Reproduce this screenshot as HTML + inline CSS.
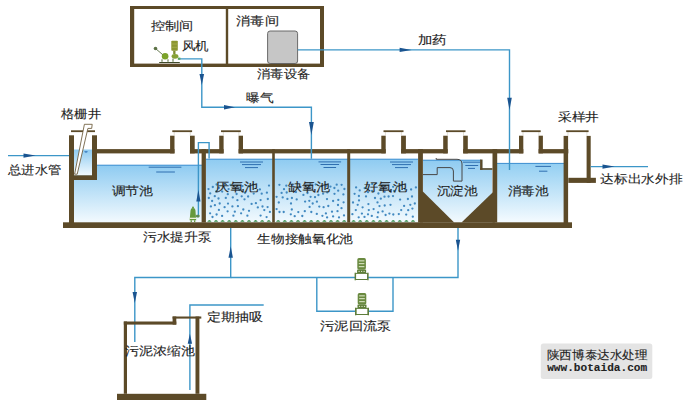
<!DOCTYPE html>
<html><head><meta charset="utf-8"><style>
html,body{margin:0;padding:0;background:#fff;width:696px;height:408px;overflow:hidden;}
svg{display:block;font-family:"Liberation Sans",sans-serif;}
</style></head><body>
<svg width="696" height="408" viewBox="0 0 696 408">
<defs>
<linearGradient id="wg" x1="0" y1="0" x2="0" y2="1">
<stop offset="0" stop-color="#8ecbf1"/><stop offset="1" stop-color="#f3fafe"/></linearGradient>
<linearGradient id="wg2" x1="0" y1="0" x2="0" y2="1">
<stop offset="0" stop-color="#93cff2"/><stop offset="1" stop-color="#f5fbff"/></linearGradient>
</defs>
<rect x="74" y="165" width="128" height="57.5" fill="url(#wg)" />
<line x1="74" y1="165.2" x2="202" y2="165.2" stroke="#3d8fd0" stroke-width="1"/>
<rect x="74" y="149.5" width="18.3" height="26.0" fill="url(#wg)" />
<rect x="206" y="159" width="212" height="63.5" fill="url(#wg)" />
<line x1="206" y1="159.2" x2="418" y2="159.2" stroke="#3d8fd0" stroke-width="1"/>
<rect x="423" y="160" width="69" height="62.5" fill="url(#wg)" />
<line x1="423" y1="160.2" x2="481" y2="160.2" stroke="#3d8fd0" stroke-width="1"/>
<rect x="482.3" y="153.4" width="10.2" height="14.8" fill="#fff" />
<rect x="497" y="163.2" width="67" height="59.3" fill="url(#wg2)" />
<line x1="497" y1="163.4" x2="564" y2="163.4" stroke="#3d8fd0" stroke-width="1"/>
<circle cx="228.6" cy="189.1" r="1.15" fill="#4289c0"/>
<circle cx="248.9" cy="186.4" r="1.15" fill="#4289c0"/>
<circle cx="241.7" cy="196.3" r="1.15" fill="#4289c0"/>
<circle cx="212.1" cy="201.0" r="1.15" fill="#4289c0"/>
<circle cx="212.8" cy="187.0" r="1.15" fill="#4289c0"/>
<circle cx="234.8" cy="211.7" r="1.15" fill="#4289c0"/>
<circle cx="216.2" cy="191.5" r="1.15" fill="#4289c0"/>
<circle cx="247.4" cy="215.7" r="1.15" fill="#4289c0"/>
<circle cx="269.0" cy="185.6" r="1.15" fill="#4289c0"/>
<circle cx="261.7" cy="193.7" r="1.15" fill="#4289c0"/>
<circle cx="227.6" cy="211.3" r="1.15" fill="#4289c0"/>
<circle cx="219.7" cy="203.5" r="1.15" fill="#4289c0"/>
<circle cx="248.1" cy="196.5" r="1.15" fill="#4289c0"/>
<circle cx="242.5" cy="186.1" r="1.15" fill="#4289c0"/>
<circle cx="228.0" cy="203.6" r="1.15" fill="#4289c0"/>
<circle cx="236.6" cy="194.0" r="1.15" fill="#4289c0"/>
<circle cx="257.8" cy="207.4" r="1.15" fill="#4289c0"/>
<circle cx="241.1" cy="213.3" r="1.15" fill="#4289c0"/>
<circle cx="253.7" cy="193.6" r="1.15" fill="#4289c0"/>
<circle cx="210.9" cy="206.4" r="1.15" fill="#4289c0"/>
<circle cx="255.9" cy="203.2" r="1.15" fill="#4289c0"/>
<circle cx="251.6" cy="203.9" r="1.15" fill="#4289c0"/>
<circle cx="244.5" cy="199.3" r="1.15" fill="#4289c0"/>
<circle cx="260.6" cy="215.6" r="1.15" fill="#4289c0"/>
<circle cx="237.9" cy="206.2" r="1.15" fill="#4289c0"/>
<circle cx="232.4" cy="206.4" r="1.15" fill="#4289c0"/>
<circle cx="218.9" cy="187.9" r="1.15" fill="#4289c0"/>
<circle cx="225.8" cy="197.9" r="1.15" fill="#4289c0"/>
<circle cx="245.0" cy="192.8" r="1.15" fill="#4289c0"/>
<circle cx="208.8" cy="198.0" r="1.15" fill="#4289c0"/>
<circle cx="267.6" cy="207.1" r="1.15" fill="#4289c0"/>
<circle cx="264.3" cy="210.1" r="1.15" fill="#4289c0"/>
<circle cx="232.8" cy="197.4" r="1.15" fill="#4289c0"/>
<circle cx="214.9" cy="205.2" r="1.15" fill="#4289c0"/>
<circle cx="208.5" cy="189.1" r="1.15" fill="#4289c0"/>
<circle cx="214.8" cy="196.2" r="1.15" fill="#4289c0"/>
<circle cx="210.1" cy="213.3" r="1.15" fill="#4289c0"/>
<circle cx="237.4" cy="200.2" r="1.15" fill="#4289c0"/>
<circle cx="259.9" cy="189.4" r="1.15" fill="#4289c0"/>
<circle cx="218.9" cy="209.9" r="1.15" fill="#4289c0"/>
<circle cx="230.5" cy="185.0" r="1.15" fill="#4289c0"/>
<circle cx="210.2" cy="193.4" r="1.15" fill="#4289c0"/>
<circle cx="224.6" cy="207.2" r="1.15" fill="#4289c0"/>
<circle cx="267.8" cy="199.0" r="1.15" fill="#4289c0"/>
<circle cx="266.6" cy="217.1" r="1.15" fill="#4289c0"/>
<circle cx="222.2" cy="191.6" r="1.15" fill="#4289c0"/>
<circle cx="260.6" cy="200.1" r="1.15" fill="#4289c0"/>
<circle cx="249.0" cy="210.8" r="1.15" fill="#4289c0"/>
<circle cx="233.4" cy="215.7" r="1.15" fill="#4289c0"/>
<circle cx="216.6" cy="184.5" r="1.15" fill="#4289c0"/>
<circle cx="216.6" cy="214.5" r="1.15" fill="#4289c0"/>
<circle cx="243.3" cy="209.5" r="1.15" fill="#4289c0"/>
<circle cx="266.9" cy="192.7" r="1.15" fill="#4289c0"/>
<circle cx="222.1" cy="215.9" r="1.15" fill="#4289c0"/>
<circle cx="269.9" cy="211.9" r="1.15" fill="#4289c0"/>
<circle cx="218.5" cy="198.5" r="1.15" fill="#4289c0"/>
<circle cx="253.3" cy="184.7" r="1.15" fill="#4289c0"/>
<circle cx="212.5" cy="217.0" r="1.15" fill="#4289c0"/>
<circle cx="227.8" cy="194.2" r="1.15" fill="#4289c0"/>
<circle cx="239.5" cy="190.0" r="1.15" fill="#4289c0"/>
<circle cx="224.0" cy="184.5" r="1.15" fill="#4289c0"/>
<circle cx="262.5" cy="206.5" r="1.15" fill="#4289c0"/>
<circle cx="296.0" cy="192.1" r="1.15" fill="#4289c0"/>
<circle cx="296.7" cy="199.4" r="1.15" fill="#4289c0"/>
<circle cx="287.4" cy="198.9" r="1.15" fill="#4289c0"/>
<circle cx="294.7" cy="216.2" r="1.15" fill="#4289c0"/>
<circle cx="343.6" cy="202.3" r="1.15" fill="#4289c0"/>
<circle cx="276.6" cy="196.8" r="1.15" fill="#4289c0"/>
<circle cx="309.3" cy="200.8" r="1.15" fill="#4289c0"/>
<circle cx="282.7" cy="197.4" r="1.15" fill="#4289c0"/>
<circle cx="279.4" cy="184.8" r="1.15" fill="#4289c0"/>
<circle cx="316.9" cy="201.7" r="1.15" fill="#4289c0"/>
<circle cx="328.3" cy="206.0" r="1.15" fill="#4289c0"/>
<circle cx="325.9" cy="213.4" r="1.15" fill="#4289c0"/>
<circle cx="303.4" cy="194.9" r="1.15" fill="#4289c0"/>
<circle cx="344.4" cy="189.0" r="1.15" fill="#4289c0"/>
<circle cx="279.5" cy="212.0" r="1.15" fill="#4289c0"/>
<circle cx="338.0" cy="205.0" r="1.15" fill="#4289c0"/>
<circle cx="311.3" cy="212.0" r="1.15" fill="#4289c0"/>
<circle cx="332.0" cy="211.7" r="1.15" fill="#4289c0"/>
<circle cx="316.8" cy="213.9" r="1.15" fill="#4289c0"/>
<circle cx="323.6" cy="207.2" r="1.15" fill="#4289c0"/>
<circle cx="292.4" cy="185.0" r="1.15" fill="#4289c0"/>
<circle cx="283.7" cy="212.0" r="1.15" fill="#4289c0"/>
<circle cx="310.3" cy="184.1" r="1.15" fill="#4289c0"/>
<circle cx="322.0" cy="186.2" r="1.15" fill="#4289c0"/>
<circle cx="327.3" cy="192.4" r="1.15" fill="#4289c0"/>
<circle cx="281.6" cy="192.9" r="1.15" fill="#4289c0"/>
<circle cx="310.6" cy="196.8" r="1.15" fill="#4289c0"/>
<circle cx="309.6" cy="206.9" r="1.15" fill="#4289c0"/>
<circle cx="286.7" cy="192.5" r="1.15" fill="#4289c0"/>
<circle cx="315.7" cy="184.4" r="1.15" fill="#4289c0"/>
<circle cx="323.1" cy="193.7" r="1.15" fill="#4289c0"/>
<circle cx="308.7" cy="188.0" r="1.15" fill="#4289c0"/>
<circle cx="338.2" cy="190.7" r="1.15" fill="#4289c0"/>
<circle cx="344.0" cy="215.4" r="1.15" fill="#4289c0"/>
<circle cx="333.1" cy="216.4" r="1.15" fill="#4289c0"/>
<circle cx="307.5" cy="193.0" r="1.15" fill="#4289c0"/>
<circle cx="291.0" cy="203.5" r="1.15" fill="#4289c0"/>
<circle cx="333.1" cy="201.0" r="1.15" fill="#4289c0"/>
<circle cx="298.3" cy="212.1" r="1.15" fill="#4289c0"/>
<circle cx="276.6" cy="209.1" r="1.15" fill="#4289c0"/>
<circle cx="334.4" cy="188.0" r="1.15" fill="#4289c0"/>
<circle cx="302.3" cy="216.0" r="1.15" fill="#4289c0"/>
<circle cx="337.5" cy="211.2" r="1.15" fill="#4289c0"/>
<circle cx="326.2" cy="185.7" r="1.15" fill="#4289c0"/>
<circle cx="327.0" cy="199.1" r="1.15" fill="#4289c0"/>
<circle cx="315.0" cy="197.2" r="1.15" fill="#4289c0"/>
<circle cx="290.8" cy="214.3" r="1.15" fill="#4289c0"/>
<circle cx="339.0" cy="217.4" r="1.15" fill="#4289c0"/>
<circle cx="300.1" cy="187.1" r="1.15" fill="#4289c0"/>
<circle cx="305.1" cy="201.6" r="1.15" fill="#4289c0"/>
<circle cx="336.7" cy="184.7" r="1.15" fill="#4289c0"/>
<circle cx="338.3" cy="199.9" r="1.15" fill="#4289c0"/>
<circle cx="284.0" cy="189.2" r="1.15" fill="#4289c0"/>
<circle cx="341.5" cy="208.2" r="1.15" fill="#4289c0"/>
<circle cx="312.7" cy="203.5" r="1.15" fill="#4289c0"/>
<circle cx="343.4" cy="194.4" r="1.15" fill="#4289c0"/>
<circle cx="291.8" cy="209.5" r="1.15" fill="#4289c0"/>
<circle cx="291.9" cy="198.0" r="1.15" fill="#4289c0"/>
<circle cx="322.4" cy="215.8" r="1.15" fill="#4289c0"/>
<circle cx="286.3" cy="185.7" r="1.15" fill="#4289c0"/>
<circle cx="327.1" cy="217.4" r="1.15" fill="#4289c0"/>
<circle cx="304.8" cy="211.2" r="1.15" fill="#4289c0"/>
<circle cx="341.6" cy="184.8" r="1.15" fill="#4289c0"/>
<circle cx="318.4" cy="195.0" r="1.15" fill="#4289c0"/>
<circle cx="330.5" cy="186.6" r="1.15" fill="#4289c0"/>
<circle cx="278.8" cy="202.5" r="1.15" fill="#4289c0"/>
<circle cx="319.3" cy="206.6" r="1.15" fill="#4289c0"/>
<circle cx="334.5" cy="193.8" r="1.15" fill="#4289c0"/>
<circle cx="388.6" cy="196.5" r="1.15" fill="#4289c0"/>
<circle cx="399.6" cy="190.7" r="1.15" fill="#4289c0"/>
<circle cx="368.0" cy="192.2" r="1.15" fill="#4289c0"/>
<circle cx="361.9" cy="213.6" r="1.15" fill="#4289c0"/>
<circle cx="377.5" cy="217.2" r="1.15" fill="#4289c0"/>
<circle cx="384.7" cy="191.8" r="1.15" fill="#4289c0"/>
<circle cx="404.1" cy="205.9" r="1.15" fill="#4289c0"/>
<circle cx="415.9" cy="187.4" r="1.15" fill="#4289c0"/>
<circle cx="382.6" cy="211.4" r="1.15" fill="#4289c0"/>
<circle cx="406.2" cy="214.6" r="1.15" fill="#4289c0"/>
<circle cx="354.6" cy="193.8" r="1.15" fill="#4289c0"/>
<circle cx="359.7" cy="190.4" r="1.15" fill="#4289c0"/>
<circle cx="414.8" cy="203.5" r="1.15" fill="#4289c0"/>
<circle cx="412.0" cy="196.5" r="1.15" fill="#4289c0"/>
<circle cx="407.9" cy="199.0" r="1.15" fill="#4289c0"/>
<circle cx="368.8" cy="210.1" r="1.15" fill="#4289c0"/>
<circle cx="390.5" cy="204.8" r="1.15" fill="#4289c0"/>
<circle cx="366.0" cy="196.4" r="1.15" fill="#4289c0"/>
<circle cx="368.4" cy="204.1" r="1.15" fill="#4289c0"/>
<circle cx="394.0" cy="190.8" r="1.15" fill="#4289c0"/>
<circle cx="372.1" cy="190.8" r="1.15" fill="#4289c0"/>
<circle cx="356.1" cy="187.4" r="1.15" fill="#4289c0"/>
<circle cx="377.5" cy="202.4" r="1.15" fill="#4289c0"/>
<circle cx="362.6" cy="207.3" r="1.15" fill="#4289c0"/>
<circle cx="378.4" cy="193.5" r="1.15" fill="#4289c0"/>
<circle cx="371.8" cy="215.9" r="1.15" fill="#4289c0"/>
<circle cx="375.0" cy="198.0" r="1.15" fill="#4289c0"/>
<circle cx="352.4" cy="214.2" r="1.15" fill="#4289c0"/>
<circle cx="353.0" cy="202.5" r="1.15" fill="#4289c0"/>
<circle cx="393.3" cy="214.5" r="1.15" fill="#4289c0"/>
<circle cx="357.7" cy="204.8" r="1.15" fill="#4289c0"/>
<circle cx="385.6" cy="215.0" r="1.15" fill="#4289c0"/>
<circle cx="359.0" cy="200.4" r="1.15" fill="#4289c0"/>
<circle cx="364.7" cy="188.2" r="1.15" fill="#4289c0"/>
<circle cx="412.8" cy="216.7" r="1.15" fill="#4289c0"/>
<circle cx="383.1" cy="185.8" r="1.15" fill="#4289c0"/>
<circle cx="410.3" cy="204.8" r="1.15" fill="#4289c0"/>
<circle cx="405.2" cy="189.4" r="1.15" fill="#4289c0"/>
<circle cx="378.1" cy="212.4" r="1.15" fill="#4289c0"/>
<circle cx="398.8" cy="214.1" r="1.15" fill="#4289c0"/>
<circle cx="400.9" cy="185.3" r="1.15" fill="#4289c0"/>
<circle cx="379.5" cy="206.1" r="1.15" fill="#4289c0"/>
<circle cx="380.8" cy="198.7" r="1.15" fill="#4289c0"/>
<circle cx="401.2" cy="210.1" r="1.15" fill="#4289c0"/>
<circle cx="393.1" cy="186.8" r="1.15" fill="#4289c0"/>
<circle cx="384.5" cy="196.7" r="1.15" fill="#4289c0"/>
<circle cx="364.5" cy="216.9" r="1.15" fill="#4289c0"/>
<circle cx="411.1" cy="189.5" r="1.15" fill="#4289c0"/>
<circle cx="393.0" cy="196.1" r="1.15" fill="#4289c0"/>
<circle cx="389.4" cy="213.6" r="1.15" fill="#4289c0"/>
<circle cx="358.7" cy="217.3" r="1.15" fill="#4289c0"/>
<circle cx="380.5" cy="189.9" r="1.15" fill="#4289c0"/>
<circle cx="372.2" cy="184.1" r="1.15" fill="#4289c0"/>
<circle cx="358.9" cy="196.0" r="1.15" fill="#4289c0"/>
<circle cx="390.0" cy="190.8" r="1.15" fill="#4289c0"/>
<circle cx="408.2" cy="210.2" r="1.15" fill="#4289c0"/>
<circle cx="412.4" cy="208.6" r="1.15" fill="#4289c0"/>
<circle cx="368.0" cy="214.3" r="1.15" fill="#4289c0"/>
<circle cx="355.8" cy="210.1" r="1.15" fill="#4289c0"/>
<circle cx="384.7" cy="205.5" r="1.15" fill="#4289c0"/>
<circle cx="400.1" cy="199.6" r="1.15" fill="#4289c0"/>
<circle cx="373.6" cy="209.1" r="1.15" fill="#4289c0"/>
<path d="M207.2,221.8 q2.2,-3.4 4.4,0z" fill="#3f9152"/>
<path d="M213.8,221.8 q2.2,-3.4 4.4,0z" fill="#3f9152"/>
<path d="M220.4,221.8 q2.2,-3.4 4.4,0z" fill="#3f9152"/>
<path d="M227.0,221.8 q2.2,-3.4 4.4,0z" fill="#3f9152"/>
<path d="M233.6,221.8 q2.2,-3.4 4.4,0z" fill="#3f9152"/>
<path d="M240.2,221.8 q2.2,-3.4 4.4,0z" fill="#3f9152"/>
<path d="M246.8,221.8 q2.2,-3.4 4.4,0z" fill="#3f9152"/>
<path d="M253.4,221.8 q2.2,-3.4 4.4,0z" fill="#3f9152"/>
<path d="M260.0,221.8 q2.2,-3.4 4.4,0z" fill="#3f9152"/>
<path d="M266.6,221.8 q2.2,-3.4 4.4,0z" fill="#3f9152"/>
<path d="M276.0,221.8 q2.2,-3.4 4.4,0z" fill="#3f9152"/>
<path d="M282.6,221.8 q2.2,-3.4 4.4,0z" fill="#3f9152"/>
<path d="M289.2,221.8 q2.2,-3.4 4.4,0z" fill="#3f9152"/>
<path d="M295.8,221.8 q2.2,-3.4 4.4,0z" fill="#3f9152"/>
<path d="M302.4,221.8 q2.2,-3.4 4.4,0z" fill="#3f9152"/>
<path d="M309.0,221.8 q2.2,-3.4 4.4,0z" fill="#3f9152"/>
<path d="M315.6,221.8 q2.2,-3.4 4.4,0z" fill="#3f9152"/>
<path d="M322.2,221.8 q2.2,-3.4 4.4,0z" fill="#3f9152"/>
<path d="M328.8,221.8 q2.2,-3.4 4.4,0z" fill="#3f9152"/>
<path d="M335.4,221.8 q2.2,-3.4 4.4,0z" fill="#3f9152"/>
<path d="M342.0,221.8 q2.2,-3.4 4.4,0z" fill="#3f9152"/>
<path d="M351.4,221.8 q2.2,-3.4 4.4,0z" fill="#3f9152"/>
<path d="M358.0,221.8 q2.2,-3.4 4.4,0z" fill="#3f9152"/>
<path d="M364.6,221.8 q2.2,-3.4 4.4,0z" fill="#3f9152"/>
<path d="M371.2,221.8 q2.2,-3.4 4.4,0z" fill="#3f9152"/>
<path d="M377.8,221.8 q2.2,-3.4 4.4,0z" fill="#3f9152"/>
<path d="M384.4,221.8 q2.2,-3.4 4.4,0z" fill="#3f9152"/>
<path d="M391.0,221.8 q2.2,-3.4 4.4,0z" fill="#3f9152"/>
<path d="M397.6,221.8 q2.2,-3.4 4.4,0z" fill="#3f9152"/>
<path d="M404.2,221.8 q2.2,-3.4 4.4,0z" fill="#3f9152"/>
<path d="M410.8,221.8 q2.2,-3.4 4.4,0z" fill="#3f9152"/>
<line x1="240" y1="162" x2="263" y2="162" stroke="#2f6fb0" stroke-width="1"/>
<line x1="242" y1="164.6" x2="261" y2="164.6" stroke="#2f6fb0" stroke-width="1"/>
<line x1="245" y1="167.6" x2="258" y2="167.6" stroke="#2f6fb0" stroke-width="1"/>
<line x1="318.5" y1="161.9" x2="341.1" y2="161.9" stroke="#2f6fb0" stroke-width="1"/>
<line x1="320.5" y1="164.5" x2="339.1" y2="164.5" stroke="#2f6fb0" stroke-width="1"/>
<line x1="323.5" y1="167.5" x2="336.1" y2="167.5" stroke="#2f6fb0" stroke-width="1"/>
<line x1="390" y1="162" x2="413" y2="162" stroke="#2f6fb0" stroke-width="1"/>
<line x1="392" y1="164.6" x2="411" y2="164.6" stroke="#2f6fb0" stroke-width="1"/>
<line x1="395" y1="167.6" x2="408" y2="167.6" stroke="#2f6fb0" stroke-width="1"/>
<line x1="463" y1="162.2" x2="480" y2="162.2" stroke="#2f6fb0" stroke-width="1"/>
<line x1="465.3" y1="165.5" x2="478.2" y2="165.5" stroke="#2f6fb0" stroke-width="1"/>
<line x1="468" y1="168.4" x2="475" y2="168.4" stroke="#2f6fb0" stroke-width="1"/>
<line x1="148.7" y1="167.2" x2="181.4" y2="167.2" stroke="#2f6fb0" stroke-width="1"/>
<line x1="156.2" y1="172" x2="174.9" y2="172" stroke="#2f6fb0" stroke-width="1"/>
<line x1="535.4" y1="166.4" x2="551" y2="166.4" stroke="#2f6fb0" stroke-width="1"/>
<line x1="539" y1="171.2" x2="547.4" y2="171.2" stroke="#2f6fb0" stroke-width="1"/>
<rect x="63" y="222.3" width="509" height="5.7" fill="#5c4a28" />
<rect x="69" y="135.3" width="5" height="92.7" fill="#5c4a28" />
<rect x="92" y="135.3" width="5" height="44.7" fill="#5c4a28" />
<rect x="74" y="175.3" width="23" height="4.7" fill="#5c4a28" />
<rect x="97" y="149.1" width="77.5" height="4.3" fill="#5c4a28" />
<rect x="190" y="149.1" width="33.6" height="4.3" fill="#5c4a28" />
<rect x="238.6" y="149.1" width="147.1" height="4.3" fill="#5c4a28" />
<rect x="401.1" y="149.1" width="46.6" height="4.3" fill="#5c4a28" />
<rect x="463.2" y="149.1" width="60.1" height="4.3" fill="#5c4a28" />
<rect x="538.6" y="149.1" width="29.7" height="4.3" fill="#5c4a28" />
<rect x="170.1" y="135.7" width="4.4" height="17.7" fill="#5c4a28" />
<rect x="190" y="135.7" width="4.7" height="17.7" fill="#5c4a28" />
<rect x="219.2" y="135.7" width="4.4" height="17.7" fill="#5c4a28" />
<rect x="238.6" y="135.7" width="4.4" height="17.7" fill="#5c4a28" />
<rect x="381.3" y="135.7" width="4.4" height="17.7" fill="#5c4a28" />
<rect x="401.1" y="135.7" width="4.8" height="17.7" fill="#5c4a28" />
<rect x="443.2" y="135.7" width="4.5" height="17.7" fill="#5c4a28" />
<rect x="463.2" y="135.7" width="4.6" height="17.7" fill="#5c4a28" />
<rect x="519" y="135.7" width="4.3" height="17.7" fill="#5c4a28" />
<rect x="538.6" y="135.7" width="4.3" height="17.7" fill="#5c4a28" />
<line x1="174.2" y1="132" x2="174.2" y2="135.7" stroke="#cfc9bb" stroke-width="0.6"/>
<line x1="190.3" y1="132" x2="190.3" y2="135.7" stroke="#cfc9bb" stroke-width="0.6"/>
<line x1="223.3" y1="132" x2="223.3" y2="135.7" stroke="#cfc9bb" stroke-width="0.6"/>
<line x1="238.9" y1="132" x2="238.9" y2="135.7" stroke="#cfc9bb" stroke-width="0.6"/>
<line x1="385.4" y1="132" x2="385.4" y2="135.7" stroke="#cfc9bb" stroke-width="0.6"/>
<line x1="401.4" y1="132" x2="401.4" y2="135.7" stroke="#cfc9bb" stroke-width="0.6"/>
<line x1="447.4" y1="132" x2="447.4" y2="135.7" stroke="#cfc9bb" stroke-width="0.6"/>
<line x1="463.5" y1="132" x2="463.5" y2="135.7" stroke="#cfc9bb" stroke-width="0.6"/>
<line x1="523" y1="132" x2="523" y2="135.7" stroke="#cfc9bb" stroke-width="0.6"/>
<line x1="538.9" y1="132" x2="538.9" y2="135.7" stroke="#cfc9bb" stroke-width="0.6"/>
<line x1="568" y1="132" x2="568" y2="135.7" stroke="#cfc9bb" stroke-width="0.6"/>
<line x1="586.9" y1="132" x2="586.9" y2="135.7" stroke="#cfc9bb" stroke-width="0.6"/>
<rect x="71" y="130.3" width="24" height="1.8" fill="#5c4a28" />
<rect x="172.3" y="130.3" width="19.8" height="1.8" fill="#5c4a28" />
<rect x="221" y="130.3" width="19.8" height="1.8" fill="#5c4a28" />
<rect x="383.5" y="130.3" width="20.0" height="1.8" fill="#5c4a28" />
<rect x="446" y="130.3" width="19.5" height="1.8" fill="#5c4a28" />
<rect x="521.4" y="130.3" width="19.3" height="1.8" fill="#5c4a28" />
<rect x="566.2" y="130.3" width="22.4" height="1.8" fill="#5c4a28" />
<rect x="201.6" y="149.1" width="4.3" height="73.4" fill="#5c4a28" />
<rect x="272.2" y="149.1" width="2.6" height="73.4" fill="#5c4a28" />
<rect x="347.2" y="149.1" width="3.0" height="73.4" fill="#5c4a28" />
<rect x="418.1" y="149.1" width="4.8" height="73.4" fill="#5c4a28" />
<rect x="492.5" y="149.1" width="4.7" height="73.4" fill="#5c4a28" />
<rect x="563.6" y="135.9" width="4.5" height="92.1" fill="#5c4a28" />
<rect x="586.6" y="135.9" width="4.1" height="47.0" fill="#5c4a28" />
<rect x="568.3" y="177.8" width="27.6" height="5.1" fill="#5c4a28" />
<polygon points="420,191.6 422.9,191.6 454.2,222.5 420,222.5" fill="#5c4a28"/>
<polygon points="495,192.6 492.6,192.6 461.5,222.5 495,222.5" fill="#5c4a28"/>
<rect x="480.1" y="159.5" width="2.4" height="10.3" fill="#5c4a28" />
<rect x="480.1" y="168.2" width="12.4" height="1.6" fill="#5c4a28" />
<path d="M423,174.6 H437.2 V167.6 H450 Q453.4,167.6 453.4,171 V181.1 H462 V164 Q462,159.3 457,159.3 H436.2 V158" fill="none" stroke="#474747" stroke-width="1"/>
<path d="M74.6,174.2 L84.4,124.3 H92.2 L91.7,128.4 H87.9 L77.2,174.2 Z" fill="#fff" stroke="#6a5838" stroke-width="0.85"/>
<path d="M84,151.5 q2,-1 4,0 q-2,2.5 -4,0z" fill="#3d7fc0"/>
<rect x="130" y="6" width="194" height="3" fill="#5c4a28" />
<rect x="130" y="63.6" width="194" height="3.4" fill="#5c4a28" />
<rect x="130" y="6" width="4.2" height="61" fill="#5c4a28" />
<rect x="320" y="6" width="4" height="61" fill="#5c4a28" />
<rect x="225.8" y="6" width="2.4" height="61" fill="#5c4a28" />
<rect x="267.6" y="31" width="30" height="32.5" rx="2.5" fill="#c6c6c6" stroke="#5b5b5b" stroke-width="0.9"/>
<line x1="8" y1="155.6" x2="69" y2="155.6" stroke="#3c96c8" stroke-width="1.3"/>
<polygon points="35.5,155.6 23.5,153.4 23.5,157.79999999999998" fill="#1a5490"/>
<line x1="590.7" y1="166.6" x2="648" y2="166.6" stroke="#3c96c8" stroke-width="1.3"/>
<polygon points="614.5,166.6 602.5,164.4 602.5,168.79999999999998" fill="#1a5490"/>
<polyline points="178.4,58.9 201.8,58.9 201.8,107.2 311.4,107.2 311.4,158.8" fill="none" stroke="#3c96c8" stroke-width="1.4" />
<polygon points="201.8,85 199.5,74 204.10000000000002,74" fill="#1a5490"/>
<polygon points="235,107.2 224,105.0 224,109.4" fill="#1a5490"/>
<polygon points="311.4,135 309.0,122 313.79999999999995,122" fill="#1a5490"/>
<polyline points="297.8,49.9 509.5,49.9 509.5,170" fill="none" stroke="#3c96c8" stroke-width="1.4" />
<polygon points="411.6,49.9 399.6,47.699999999999996 399.6,52.1" fill="#1a5490"/>
<polygon points="509.5,110 507.2,97.7 511.8,97.7" fill="#1a5490"/>
<polyline points="198.4,215.5 198.4,142.6 209.1,142.6 209.1,158.5" fill="none" stroke="#3c96c8" stroke-width="1.4" />
<polygon points="198.4,189.8 196.3,201.4 200.5,201.4" fill="#1a5490"/>
<polyline points="230.7,228 230.7,277.5 134.8,277.5 134.8,342" fill="none" stroke="#3c96c8" stroke-width="1.4" />
<polygon points="230.7,246.2 228.5,257.8 232.89999999999998,257.8" fill="#1a5490"/>
<polygon points="134.8,303 132.55,292 137.05,292" fill="#1a5490"/>
<polyline points="458,228 458,277.5 230.7,277.5" fill="none" stroke="#3c96c8" stroke-width="1.4" />
<polygon points="458,250.8 455.8,239.8 460.2,239.8" fill="#1a5490"/>
<polyline points="316.8,277.5 316.8,311.3 393,311.3 393,277.5" fill="none" stroke="#3c96c8" stroke-width="1.4" />
<polyline points="263.7,305 189.9,305 189.9,390" fill="none" stroke="#3c96c8" stroke-width="1.4" />
<polygon points="189.9,333.8 187.70000000000002,343.8 192.1,343.8" fill="#1a5490"/>
<rect x="117" y="393.8" width="89.3" height="6.2" fill="#5c4a28" />
<rect x="123.8" y="321.5" width="3.2" height="72.3" fill="#5c4a28" />
<rect x="195.5" y="316.5" width="3.9" height="77.3" fill="#5c4a28" />
<rect x="123.8" y="321.5" width="52.5" height="3.1" fill="#5c4a28" />
<rect x="172.6" y="316.5" width="3.7" height="8.1" fill="#5c4a28" />
<rect x="172.6" y="316.5" width="28.7" height="2.1" fill="#5c4a28" />
<rect x="357.3" y="258.1" width="8.6" height="11.6" rx="1.6" fill="#6a8a40"/>
<rect x="358.8" y="260.3" width="5.6" height="1.1" fill="#d9e4c4"/>
<rect x="358.8" y="263.1" width="5.6" height="1.1" fill="#d9e4c4"/>
<rect x="358.8" y="266.1" width="5.6" height="1.1" fill="#d9e4c4"/>
<rect x="357.1" y="269.70000000000005" width="9" height="3.4" fill="#5e7f38"/>
<rect x="358.5" y="270.90000000000003" width="1.2" height="1" fill="#e3ebd2"/>
<rect x="361.0" y="270.90000000000003" width="1.2" height="1" fill="#e3ebd2"/>
<rect x="363.5" y="270.90000000000003" width="1.2" height="1" fill="#e3ebd2"/>
<path d="M355.6,273.40000000000003 H367.6 V279.5 H355.6Z" fill="#fff" stroke="#5d7d3a" stroke-width="1"/>
<rect x="354.6" y="272.70000000000005" width="1.3" height="7.6" fill="#5d7d3a"/><rect x="367.3" y="272.70000000000005" width="1.3" height="7.6" fill="#5d7d3a"/>
<rect x="357.7" y="293.1" width="8.6" height="11.6" rx="1.6" fill="#6a8a40"/>
<rect x="359.2" y="295.3" width="5.6" height="1.1" fill="#d9e4c4"/>
<rect x="359.2" y="298.1" width="5.6" height="1.1" fill="#d9e4c4"/>
<rect x="359.2" y="301.1" width="5.6" height="1.1" fill="#d9e4c4"/>
<rect x="357.5" y="304.70000000000005" width="9" height="3.4" fill="#5e7f38"/>
<rect x="358.9" y="305.90000000000003" width="1.2" height="1" fill="#e3ebd2"/>
<rect x="361.4" y="305.90000000000003" width="1.2" height="1" fill="#e3ebd2"/>
<rect x="363.9" y="305.90000000000003" width="1.2" height="1" fill="#e3ebd2"/>
<path d="M356,308.40000000000003 H368 V314.5 H356Z" fill="#fff" stroke="#5d7d3a" stroke-width="1"/>
<rect x="355" y="307.70000000000005" width="1.3" height="7.6" fill="#5d7d3a"/><rect x="367.7" y="307.70000000000005" width="1.3" height="7.6" fill="#5d7d3a"/>
<path d="M190.6,210 Q190.8,208 193,208 Q195.2,208 195.4,210 L196.2,220.3 H189.6 Z" fill="#66993d"/>
<circle cx="193" cy="207.4" r="1" fill="#66993d"/>
<rect x="189.8" y="217.7" width="6.2" height="1.3" fill="#eef3dc"/>
<rect x="190.6" y="220.3" width="1.3" height="1.8" fill="#66993d"/><rect x="194" y="220.3" width="1.3" height="1.8" fill="#66993d"/>
<rect x="196" y="214.8" width="3.6" height="2.6" rx="0.8" fill="#5d8a55"/>
<rect x="171.3" y="40.8" width="6.5" height="9.9" rx="0.8" fill="#8c9631"/>
<line x1="171.8" y1="44" x2="177.3" y2="44" stroke="#b3ba5c" stroke-width="0.6"/>
<line x1="171.8" y1="47.3" x2="177.3" y2="47.3" stroke="#b3ba5c" stroke-width="0.6"/>
<rect x="173.2" y="50.7" width="2.3" height="3.5" fill="#7d8c2e"/>
<ellipse cx="175" cy="56.3" rx="3.4" ry="2.4" fill="#86a035"/>
<circle cx="165.1" cy="56.2" r="3.3" fill="#7ba22a"/>
<circle cx="155.5" cy="48.5" r="1.8" fill="#5f7448"/>
<line x1="155.5" y1="48.5" x2="162.6" y2="54.6" stroke="#566b3f" stroke-width="0.9"/>
<rect x="161.5" y="59.3" width="1" height="2.5" fill="#556b35"/><rect x="167.5" y="59.3" width="1" height="2.5" fill="#556b35"/><rect x="172.5" y="58.6" width="1" height="3.2" fill="#556b35"/>
<line x1="159.2" y1="62.5" x2="179.8" y2="62.5" stroke="#3f4a2a" stroke-width="1"/>
<rect x="177.8" y="57.6" width="2.6" height="2.2" fill="#5aa55a"/>
<rect x="540.8" y="343.4" width="111.5" height="35.5" rx="2.5" fill="#e4e4e4"/>
<text x="150.6" y="29.5" font-size="12.4" fill="#1f1f1f" stroke="#1f1f1f" stroke-width="0.12" textLength="42.6" lengthAdjust="spacingAndGlyphs">控制间</text>
<text x="181.8" y="50" font-size="12.4" fill="#1f1f1f" stroke="#1f1f1f" stroke-width="0.12" textLength="27.0" lengthAdjust="spacingAndGlyphs">风机</text>
<text x="236.1" y="24.5" font-size="12.4" fill="#1f1f1f" stroke="#1f1f1f" stroke-width="0.12" textLength="42.8" lengthAdjust="spacingAndGlyphs">消毒间</text>
<text x="257.1" y="78" font-size="12.4" fill="#1f1f1f" stroke="#1f1f1f" stroke-width="0.12" textLength="53.6" lengthAdjust="spacingAndGlyphs">消毒设备</text>
<text x="417.6" y="43.6" font-size="12.4" fill="#1f1f1f" stroke="#1f1f1f" stroke-width="0.12" textLength="29.0" lengthAdjust="spacingAndGlyphs">加药</text>
<text x="246.3" y="102.3" font-size="12.4" fill="#1f1f1f" stroke="#1f1f1f" stroke-width="0.12" textLength="27.6" lengthAdjust="spacingAndGlyphs">曝气</text>
<text x="61" y="117.9" font-size="12.4" fill="#1f1f1f" stroke="#1f1f1f" stroke-width="0.12" textLength="40.0" lengthAdjust="spacingAndGlyphs">格栅井</text>
<text x="558" y="120.5" font-size="12.4" fill="#1f1f1f" stroke="#1f1f1f" stroke-width="0.12" textLength="41.0" lengthAdjust="spacingAndGlyphs">采样井</text>
<text x="8" y="174" font-size="12.4" fill="#1f1f1f" stroke="#1f1f1f" stroke-width="0.12" textLength="53.0" lengthAdjust="spacingAndGlyphs">总进水管</text>
<text x="111.6" y="194.6" font-size="12.4" fill="#1f1f1f" stroke="#1f1f1f" stroke-width="0.12" textLength="41.6" lengthAdjust="spacingAndGlyphs">调节池</text>
<text x="215.3" y="190.5" font-size="12.4" fill="#1f1f1f" stroke="#1f1f1f" stroke-width="0.12" textLength="43.0" lengthAdjust="spacingAndGlyphs">厌氧池</text>
<text x="288.2" y="190.5" font-size="12.4" fill="#1f1f1f" stroke="#1f1f1f" stroke-width="0.12" textLength="42.1" lengthAdjust="spacingAndGlyphs">缺氧池</text>
<text x="364.2" y="190.5" font-size="12.4" fill="#1f1f1f" stroke="#1f1f1f" stroke-width="0.12" textLength="42.7" lengthAdjust="spacingAndGlyphs">好氧池</text>
<text x="436.8" y="194.5" font-size="12.4" fill="#1f1f1f" stroke="#1f1f1f" stroke-width="0.12" textLength="41.0" lengthAdjust="spacingAndGlyphs">沉淀池</text>
<text x="507.8" y="194.9" font-size="12.4" fill="#1f1f1f" stroke="#1f1f1f" stroke-width="0.12" textLength="40.8" lengthAdjust="spacingAndGlyphs">消毒池</text>
<text x="600" y="183.1" font-size="12.4" fill="#1f1f1f" stroke="#1f1f1f" stroke-width="0.12" textLength="82.8" lengthAdjust="spacingAndGlyphs">达标出水外排</text>
<text x="142.8" y="240.5" font-size="12.4" fill="#1f1f1f" stroke="#1f1f1f" stroke-width="0.12" textLength="68.7" lengthAdjust="spacingAndGlyphs">污水提升泵</text>
<text x="257.2" y="242.9" font-size="12.4" fill="#1f1f1f" stroke="#1f1f1f" stroke-width="0.12" textLength="95.8" lengthAdjust="spacingAndGlyphs">生物接触氧化池</text>
<text x="207" y="320.5" font-size="12.4" fill="#1f1f1f" stroke="#1f1f1f" stroke-width="0.12" textLength="56.0" lengthAdjust="spacingAndGlyphs">定期抽吸</text>
<text x="125.2" y="355" font-size="12.4" fill="#1f1f1f" stroke="#1f1f1f" stroke-width="0.12" textLength="69.5" lengthAdjust="spacingAndGlyphs">污泥浓缩池</text>
<text x="320.2" y="330" font-size="12.4" fill="#1f1f1f" stroke="#1f1f1f" stroke-width="0.12" textLength="70.8" lengthAdjust="spacingAndGlyphs">污泥回流泵</text>
<text x="546.7" y="358.8" font-size="12.2" fill="#222" stroke="#222" stroke-width="0.12" textLength="101.0" lengthAdjust="spacingAndGlyphs">陕西博泰达水处理</text>
<text x="547.2" y="371.1" font-size="11" fill="#222" stroke="#222" stroke-width="0.12" textLength="100.0" lengthAdjust="spacingAndGlyphs" font-family="Liberation Mono" font-weight="bold">www.botaida.com</text>
</svg></body></html>
